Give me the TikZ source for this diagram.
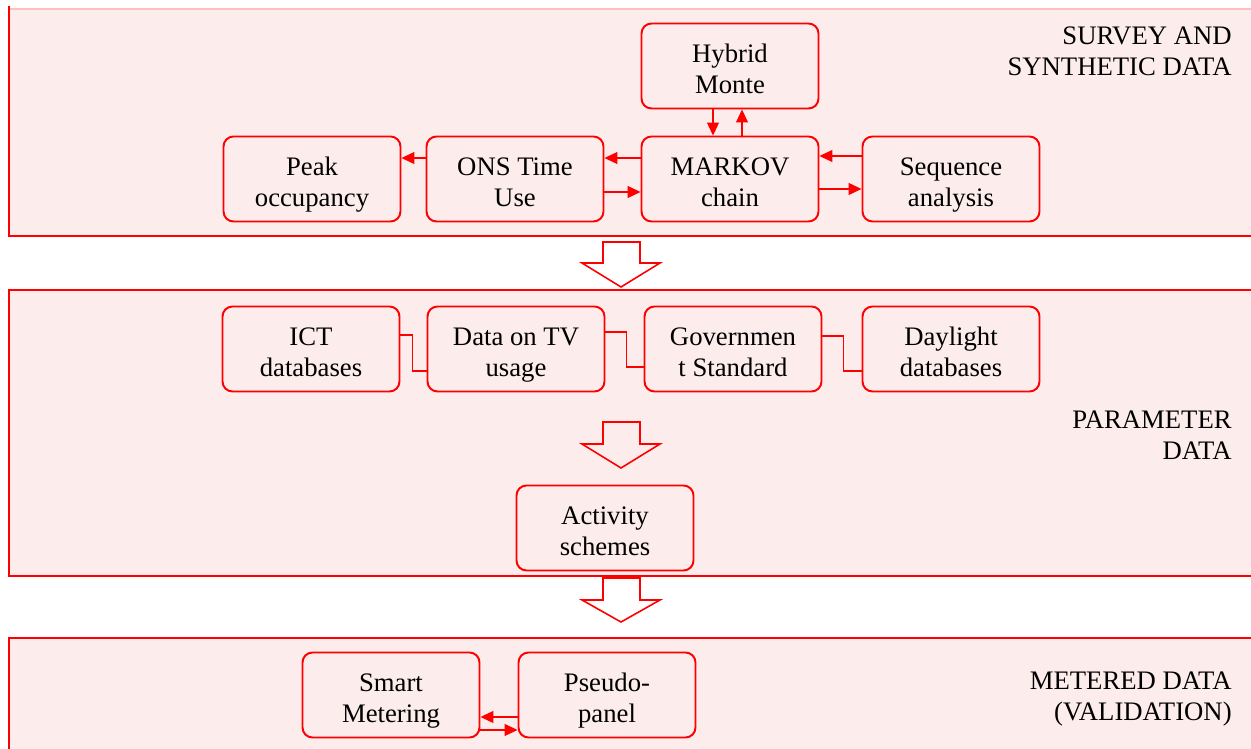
\documentclass[tikz,border=0pt]{standalone}
\usepackage{fontspec}
\setmainfont{Liberation Serif}
\usetikzlibrary{arrows.meta}
\definecolor{bandpink}{RGB}{253,236,236}
\begin{document}
\begin{tikzpicture}
[x=0.02cm,y=-0.02cm,font=\fontsize{15.2}{17.6}\selectfont,box/.style={draw=red,line width=1.1pt,rounded corners=0.2cm,fill=bandpink,minimum width=3.54cm,minimum height=1.7cm,align=center,inner sep=2pt,text height=33pt,text depth=2pt},bandline/.style={draw=red,line width=1.1pt},arr/.style={red,line width=0.6pt,-{Triangle[length=0.26cm,width=0.24cm]}},link/.style={red,line width=0.6pt},bigarrow/.style={red,line width=0.9pt,line join=miter},sectionlabel/.style={anchor=east,align=right,inner sep=0pt},]
\useasboundingbox (0,0) rectangle (1251,749);
\clip (0,0) rectangle (1251,749);
\fill[bandpink] (9,9) rectangle (1260,236);
\draw[red!25,line width=0.6pt] (9,9) -- (1260,9);
\draw[bandline] (9,6) -- (9,236) -- (1260,236);
\fill[bandpink] (9,290) rectangle (1260,576);
\draw[bandline] (1260,290) -- (9,290) -- (9,576) -- (1260,576);
\fill[bandpink] (9,638) rectangle (1260,760);
\draw[bandline] (1260,638) -- (9,638) -- (9,760);
\foreach \ya/\yb/\yc in {242/263/287,422/444/468,578/600/622}
	\draw[bigarrow] (603,\ya) -- (640,\ya) -- (640,\yb) -- (660,\yb) -- (621,\yc) -- (582,\yb) -- (603,\yb) -- cycle;
\node[box] (hybrid) at (730,66) {Hybrid\\Monte};
\node[box] (peak) at (312,179) {Peak\\occupancy};
\node[box] (ons) at (515,179) {ONS Time\\Use};
\node[box] (markov) at (730,179) {MARKOV\\chain};
\node[box] (seq) at (951,179) {Sequence\\analysis};
\node[box] (ict) at (311,349) {ICT\\databases};
\node[box] (tv) at (516,349) {Data on TV\\usage};
\node[box] (gov) at (733,349) {Governmen\\t Standard};
\node[box] (day) at (951,349) {Daylight\\databases};
\node[box] (act) at (605,528) {Activity\\schemes};
\node[box] (smart) at (391,695) {Smart\\Metering};
\node[box] (pseudo) at (607,695) {Pseudo-\\panel};
\node[sectionlabel] (survey) at (1232,51) {SURVEY AND\\SYNTHETIC DATA};
\node[sectionlabel] (param) at (1232,435) {PARAMETER\\DATA};
\node[sectionlabel] (metered) at (1232,699) {METERED DATA\\(VALIDATION)};
\draw[arr] ([xshift=-0.34cm]hybrid.south) -- ([xshift=-0.34cm]markov.north);
\draw[arr] ([xshift=0.24cm]markov.north) -- ([xshift=0.24cm]hybrid.south);
\draw[arr] ([yshift=0.42cm]ons.west) -- ([yshift=0.42cm]peak.east);
\draw[arr] ([yshift=0.42cm]markov.west) -- ([yshift=0.42cm]ons.east);
\draw[arr] ([yshift=-0.26cm]ons.east) -- ([yshift=-0.26cm]markov.west);
\draw[arr] ([yshift=0.46cm]seq.west) -- ([yshift=0.46cm]markov.east);
\draw[arr] ([yshift=-0.2cm]markov.east) -- ([yshift=-0.2cm]seq.west);
\draw[link] ([yshift=0.28cm]ict.east) -- ++(12,0) |- ([yshift=-0.44cm]tv.west);
\draw[link] ([yshift=0.34cm]tv.east) -- ++(21,0) |- ([yshift=-0.36cm]gov.west);
\draw[link] ([yshift=0.26cm]gov.east) -- ++(21,0) |- ([yshift=-0.44cm]day.west);
\draw[arr] ([yshift=-0.44cm]pseudo.west) -- ([yshift=-0.44cm]smart.east);
\draw[arr] ([yshift=-0.7cm]smart.east) -- ([yshift=-0.7cm]pseudo.west);
\end{tikzpicture}
\end{document}
